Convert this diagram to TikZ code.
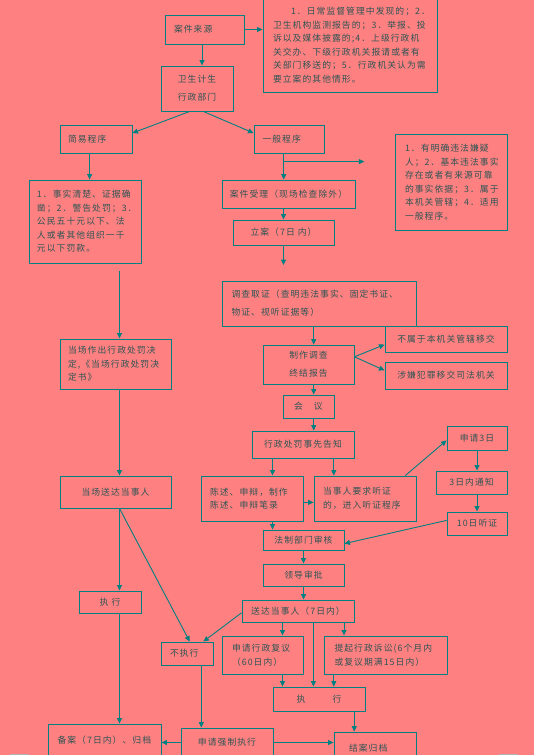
\documentclass[tikz,border=0pt]{standalone}
\usepackage{fontspec}
\newfontfamily\cjk{Noto Sans CJK SC}[LetterSpace=12]
\usetikzlibrary{arrows.meta}
\definecolor{bgpink}{RGB}{255,128,128}
\definecolor{tealline}{RGB}{0,128,128}
\definecolor{tealtext}{RGB}{45,85,85}
\tikzset{
  blk/.style={draw=tealline, line width=0.9bp, inner sep=0pt, text=tealtext,
    font=\cjk\fontsize{8.8bp}{13.5bp}\selectfont},
  lft/.style={align=left, text width=#1},
  arr/.style={draw=tealline, line width=0.9bp, -{Triangle[length=5.5bp,width=5bp]}},
}
\begin{document}
\begin{tikzpicture}[x=1bp, y=-1bp]
  \fill[bgpink] (0,0) rectangle (534,755);
  \useasboundingbox (0,0) rectangle (534,755);

  \node[blk, minimum width=79bp, minimum height=29bp, lft=61bp] (src) at (204.5,29.5) {案件来源};
  \node[blk, minimum width=174bp, minimum height=94bp, lft=154bp] (srcnote) at (350,45)
    {\hspace*{18bp}1．日常监督管理中发现的；2．\\卫生机构监测报告的；3．举报、投\\诉以及媒体披露的;4．上级行政机\\关交办、下级行政机关报请或者有\\关部门移送的；5．行政机关认为需\\要立案的其他情形。};
  \node[blk, minimum width=72bp, minimum height=45bp, align=center] (dept) at (197,88.5) {卫生计生\\[4.2bp]行政部门};
  \node[blk, minimum width=72bp, minimum height=28bp, lft=56bp] (simple) at (96,139) {简易程序};
  \node[blk, minimum width=70bp, minimum height=28bp, lft=53bp] (general) at (289,139) {一般程序};
  \node[blk, minimum width=112bp, minimum height=83bp, lft=96bp] (simnote) at (85,221.5)
    {1．事实清楚、证据确\\凿；2．警告处罚；3．\\公民五十元以下、法\\人或者其他组织一千\\元以下罚款。};
  \node[blk, minimum width=112bp, minimum height=96bp, lft=92bp] (gennote) at (451,182)
    {1．有明确违法嫌疑\\人；2．基本违法事实\\存在或者有来源可靠\\的事实依据；3．属于\\本机关管辖；4．适用\\一般程序。};
  \node[blk, minimum width=133bp, minimum height=28bp] (accept) at (288.5,194) {案件受理（现场检查除外）};
  \node[blk, minimum width=101bp, minimum height=25bp] (file) at (283.5,232.5) {立案（7日 内）};
  \node[blk, minimum width=194bp, minimum height=45bp, lft=175bp] (invest) at (319,303.5)
    {调查取证（查明违法事实、固定书证、\\[4.5bp]物证、视听证据等）};
  \node[blk, minimum width=111bp, minimum height=50bp, lft=95bp] (spot) at (115.5,364)
    {当场作出行政处罚决\\定,《当场行政处罚决\\定书》};
  \node[blk, minimum width=91bp, minimum height=39bp, align=center] (report) at (308.5,364.5) {制作调查\\[4.5bp]终结报告};
  \node[blk, minimum width=122bp, minimum height=26bp] (transfer) at (446,339) {不属于本机关管辖移交};
  \node[blk, minimum width=122bp, minimum height=27bp] (crime) at (446,375.5) {涉嫌犯罪移交司法机关};
  \node[blk, minimum width=51bp, minimum height=23bp] (meet) at (308.5,406.5) {会　议};
  \node[blk, minimum width=102bp, minimum height=27bp] (notify) at (303,444.5) {行政处罚事先告知};
  \node[blk, minimum width=102bp, minimum height=45bp, lft=84bp] (defend) at (252,498.5) {陈述、申辩，制作\\陈述、申辩笔录};
  \node[blk, minimum width=102bp, minimum height=45bp, lft=84bp] (hear) at (365,498.5) {当事人要求听证\\的，进入听证程序};
  \node[blk, minimum width=60bp, minimum height=24bp] (apply3) at (477,438) {申请3日};
  \node[blk, minimum width=71bp, minimum height=23bp] (notice3) at (471.5,482.5) {3日内通知};
  \node[blk, minimum width=60bp, minimum height=23bp] (hear10) at (477,523.5) {10日听证};
  \node[blk, minimum width=111bp, minimum height=32bp] (deliver0) at (115.5,492) {当场送达当事人};
  \node[blk, minimum width=81bp, minimum height=20bp] (legal) at (303.5,540) {法制部门审核};
  \node[blk, minimum width=81bp, minimum height=22bp] (leader) at (303.5,575) {领导审批};
  \node[blk, minimum width=112bp, minimum height=22bp] (deliver) at (298,611) {送达当事人（7日内）};
  \node[blk, minimum width=62bp, minimum height=22bp] (exec0) at (110,602) {执 行};
  \node[blk, minimum width=52bp, minimum height=23bp, lft=34bp] (noexec) at (187,653.5) {不执行};
  \node[blk, minimum width=81bp, minimum height=38bp, lft=61bp] (review) at (262.5,655) {申请行政复议\\（60日内）};
  \node[blk, minimum width=123bp, minimum height=38bp, lft=102bp] (suit) at (385.5,655) {提起行政诉讼(6个月内\\或复议期满15日内）};
  \node[blk, minimum width=92bp, minimum height=24bp] (exec) at (319,699) {执\hspace{27bp}行};
  \node[blk, minimum width=113bp, minimum height=32bp, lft=94bp] (record) at (104.5,740) {备案（7日内）、归档};
  \node[blk, minimum width=92bp, minimum height=29bp] (force) at (227,742.5) {申请强制执行};
  \node[blk, minimum width=82bp, minimum height=24bp, lft=52bp, text height=15bp] (close) at (375,744) {结案归档};

  \coordinate (gbr) at (283.7,161.6);
  \coordinate (gend) at (364.4,161.6);
  \coordinate (jl) at (119.5,271.3);

  \draw[arr] (src.east) -- (src.east -| srcnote.west);
  \draw[arr] ([xshift=-2.5bp]src.south) -- ([xshift=-2.5bp]src.south |- dept.north);
  \draw[arr] ([xshift=-7.3bp]dept.south) -- ([yshift=-8.5bp]simple.north east);
  \draw[arr] ([xshift=6.3bp]dept.south) -- ([yshift=-8.5bp]general.north west);
  \draw[arr] ([xshift=-6.4bp]simple.south) -- ([xshift=-6.4bp]simple.south |- simnote.north);
  \draw[arr] ([xshift=-5.3bp]general.south) -- ([xshift=-5.3bp]general.south |- accept.north);
  \draw[arr] (gbr) -- (gend);
  \draw[arr] (file.north |- accept.south) -- (file.north);
  \draw[arr, shorten >=15.5bp] (file.south) -- (file.south |- invest.north);
  \draw[arr] (jl) -- (jl |- spot.north);
  \draw[arr] ([xshift=5.2bp]report.north |- invest.south) -- ([xshift=5.2bp]report.north);
  \draw[arr] ([yshift=7.7bp]report.east) -- ([yshift=-5.6bp]transfer.west);
  \draw[arr] ([yshift=7.7bp]report.east) -- ([yshift=5.1bp]crime.west);
  \draw[arr] ([xshift=5.2bp]report.south) -- ([xshift=5.2bp]report.south |- meet.north);
  \draw[arr] ([xshift=4bp]spot.south) -- ([xshift=4bp]spot.south |- deliver0.north);
  \draw[arr] ([xshift=5.2bp]meet.south) -- ([xshift=5.2bp]meet.south |- notify.north);
  \draw[arr] ([xshift=-30.5bp]notify.south) -- ([xshift=-30.5bp]notify.south |- defend.north);
  \draw[arr] ([xshift=30.8bp]notify.south) -- ([xshift=30.8bp]notify.south |- hear.north);
  \draw[arr] ([yshift=-3.9bp]defend.east) -- ([yshift=-3.9bp]defend.east -| hear.west);
  \draw[arr] ([xshift=40.3bp]hear.north) -- ([yshift=-2.4bp]apply3.west);
  \draw[arr] (apply3.south) -- (apply3.south |- notice3.north);
  \draw[arr] (hear10.north |- notice3.south) -- (hear10.north);
  \draw[arr] ([yshift=3.1bp]hear10.west) -- ([yshift=-3.6bp]legal.east);
  \draw[arr] ([xshift=20.5bp]defend.south) -- ([xshift=20.5bp]defend.south |- legal.north);
  \draw[arr] (legal.south) -- (leader.north);
  \draw[arr] (leader.south) -- (leader.south |- deliver.north);
  \draw[arr] ([xshift=4bp]deliver0.south) -- ([xshift=4bp]deliver0.south |- exec0.north);
  \draw[arr] ([xshift=4bp]deliver0.south) -- ([xshift=2.7bp]noexec.north);
  \draw[arr] ([yshift=-1.8bp]deliver.west) -- ([xshift=16.3bp]noexec.north);
  \draw[arr] ([xshift=20bp]review.north |- deliver.south) -- ([xshift=20bp]review.north);
  \draw[arr] ([xshift=-5.6bp]exec.north |- deliver.south) -- ([xshift=-5.6bp]exec.north);
  \draw[arr] ([xshift=-41.5bp]suit.north |- deliver.south) -- ([xshift=-41.5bp]suit.north);
  \draw[arr] ([xshift=20bp]review.south) -- ([xshift=20bp]review.south |- exec.north);
  \draw[arr] ([xshift=-51.7bp]suit.south) -- ([xshift=-51.7bp]suit.south |- exec.north);
  \draw[arr] ([xshift=9.5bp]exec0.south) -- ([xshift=9.5bp]exec0.south |- record.north);
  \draw[arr] ([xshift=14.3bp]noexec.south) -- ([xshift=14.3bp]noexec.south |- force.north);
  \draw[arr] (force.west) -- (force.west -| record.east);
  \draw[arr] (force.east) -- (force.east -| close.west);
  \draw[arr] ([xshift=35.2bp]exec.south) -- ([xshift=35.2bp]exec.south |- close.north);

  \draw[gray!60, line width=0.6bp] (9.5,754) -- (28.6,754) -- (28.6,756);
  \draw[gray!60, line width=0.6bp] (518.4,754) -- (499,754) -- (499,756);
\end{tikzpicture}
\end{document}
